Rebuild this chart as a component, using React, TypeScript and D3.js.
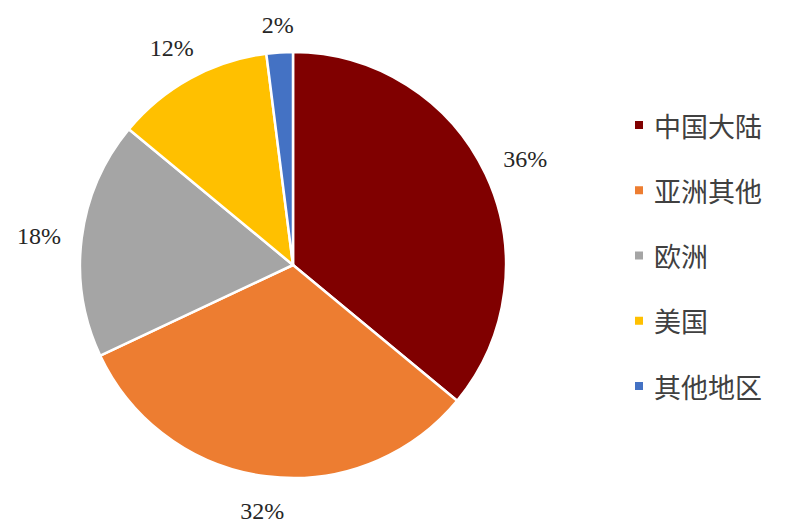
import React from "react";
import * as d3 from "d3";

const categories = ["中国大陆", "亚洲其他", "欧洲", "美国", "其他地区"];
const values = [36, 32, 18, 12, 2];
const colors = ["#800000", "#ED7D31", "#A5A5A5", "#FFC000", "#4472C4"];

export default function App() {
  const W = 800, H = 527;
  const cx = 293, cy = 265, r = 213;
  const pie = d3.pie<number>().sort(null).value((d) => d)(values);
  const arc = d3.arc<d3.PieArcDatum<number>>().innerRadius(0).outerRadius(r);
  const total = d3.sum(values);
  const legendY = d3.scalePoint<string>().domain(categories).range([125, 386]);
  return (
    <svg width={W} height={H} style={{ position: "absolute", left: 0, top: 0, background: "#fff" }}>
      <g transform={`translate(${cx},${cy})`}>
        {pie.map((p, i) => (
          <path key={i} d={arc(p) || ""} fill={colors[i]} stroke="#fff" strokeWidth={2.5} strokeLinejoin="round" />
        ))}
        {pie.map((p, i) => {
          const a = (p.startAngle + p.endAngle) / 2;
          const s = Math.sin(a), c = Math.cos(a);
          const d = r + 20 + Math.abs(s) * 22 + Math.abs(c) * 9;
          return (
            <text key={i} x={s * d} y={-c * d + 3} textAnchor="middle" dominantBaseline="central"
              fontFamily="'Liberation Serif', 'Times New Roman', serif" fontSize={24} fill="#262626">
              {Math.round((values[i] / total) * 100)}%
            </text>
          );
        })}
      </g>
      {categories.map((c, i) => (
        <g key={c} transform={`translate(0,${legendY(c)})`}>
          <rect x={635} y={-4} width={8} height={8} fill={colors[i]} />
          <text x={654} y={0} dominantBaseline="central" fontFamily="'Noto Sans CJK SC', sans-serif" fontSize={27} fill="#404040">
            {c}
          </text>
        </g>
      ))}
    </svg>
  );
}
